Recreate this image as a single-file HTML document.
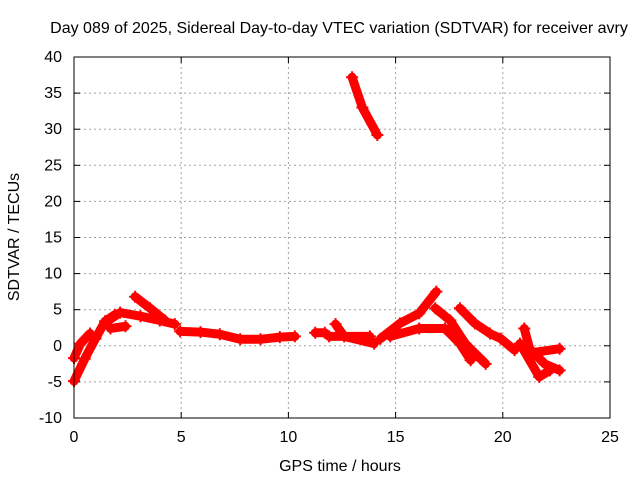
<!DOCTYPE html>
<html><head><meta charset="utf-8"><style>
body{margin:0;background:#fff;}
svg text{font-family:"Liberation Sans",sans-serif;font-size:16px;fill:#000;}
</style></head><body>
<svg id="chart" width="640" height="480" xmlns="http://www.w3.org/2000/svg">
<text x="339" y="33" text-anchor="middle">Day 089 of 2025, Sidereal Day-to-day VTEC variation (SDTVAR) for receiver avry</text>
<text x="340" y="471" text-anchor="middle">GPS time / hours</text>
<text transform="translate(19,237) rotate(-90)" text-anchor="middle">SDTVAR / TECUs</text>
<g id="grid"></g>
<g id="ticks"></g>
<g id="marks"></g>
<rect x="74" y="57" width="536" height="361" fill="none" stroke="#000" stroke-width="1"/>
</svg>
<script>
const xTicks=[0,5,10,15,20,25];
const yTicks=[-10,-5,0,5,10,15,20,25,30,35,40];
const track1=[[0,-4.9],[0.5,-1.8],[1.0,1.0],[1.45,3.4],[1.9,4.3]];
const track2=[[0,-1.7],[0.3,0.3],[0.75,1.7]];
const track3=[[1.6,3.5],[2.15,4.6],[3.1,4.1],[4.0,3.5],[4.7,3.0]];
const track4=[[2.85,6.8],[3.55,5.2],[4.25,3.5]];
const track5=[[1.7,2.4],[2.4,2.7]];
const track6=[[4.95,2.0],[5.9,1.9],[6.8,1.6],[7.75,0.9],[8.7,0.9],[9.6,1.2],[10.3,1.3]];
const track7=[[11.25,1.8],[11.7,1.8]];
const track8=[[12.2,3.0],[12.6,1.3],[14.0,0.3]];
const track9=[[11.9,1.3],[13.8,1.3]];
const track10=[[12.97,37.2],[13.45,33.0],[14.15,29.2]];
const track11=[[14.3,1.0],[15.2,3.1],[16.1,4.5],[16.9,7.5]];
const track12=[[14.75,1.3],[16.1,2.4],[17.3,2.4],[18.0,0.3],[18.5,-2.0]];
const track13=[[16.85,5.2],[17.55,3.5],[18.25,0.3],[19.2,-2.5]];
const track14=[[18.0,5.2],[18.7,3.1],[19.4,1.7],[19.9,1.0],[20.55,-0.6]];
const track15=[[21.0,2.4],[21.25,-0.4],[21.95,-2.5],[22.65,-3.4]];
const track16=[[20.8,0.3],[21.7,-4.3],[22.2,-3.4]];
const track17=[[21.25,-1.0],[22.65,-0.4]];
const tracks=[track1,track2,track3,track4,track5,track6,track7,track8,track9,track10,track11,track12,track13,track14,track15,track16,track17];
const X0=74,X1=610,Y0=418,Y1=57,XMIN=0,XMAX=25,YMIN=-10,YMAX=40;
function xs(v){return X0+(v-XMIN)/(XMAX-XMIN)*(X1-X0);}
function ys(v){return Y0-(v-YMIN)/(YMAX-YMIN)*(Y0-Y1);}
const NS="http://www.w3.org/2000/svg";
function mk(t,a,p){const e=document.createElementNS(NS,t);for(const k in a)e.setAttribute(k,a[k]);p.appendChild(e);return e;}
const grid=document.getElementById('grid'),ticks=document.getElementById('ticks'),marks=document.getElementById('marks');
xTicks.forEach(v=>{
 const x=xs(v);
 if(v>XMIN&&v<XMAX){const g=mk('line',{x1:x,x2:x,y1:Y1,y2:Y0,stroke:'#a0a0a0','stroke-dasharray':'2,3'},grid);
 
 }
 const t=mk('text',{x:x,y:Y0+24,'text-anchor':'middle'},ticks);t.textContent=v;
 
 
 mk('line',{x1:x,x2:x,y1:Y0,y2:Y0-6,stroke:'#000'},ticks);
 mk('line',{x1:x,x2:x,y1:Y1,y2:Y1+6,stroke:'#000'},ticks);
});
yTicks.forEach(v=>{
 const y=ys(v);
 if(v>YMIN&&v<YMAX){const g=mk('line',{x1:X0,x2:X1,y1:y,y2:y,stroke:'#a0a0a0','stroke-dasharray':'2,3'},grid);
 
 }
 const t=mk('text',{x:X0-12,y:y+5,'text-anchor':'end'},ticks);t.textContent=v;
 
 
 mk('line',{x1:X0,x2:X0+6,y1:y,y2:y,stroke:'#000'},ticks);
 mk('line',{x1:X1,x2:X1-6,y1:y,y2:y,stroke:'#000'},ticks);
});
tracks.forEach((tr,i)=>{
 const pts=tr.map(p=>xs(p[0])+','+ys(p[1])).join(' ');
 const pl=mk('polyline',{points:pts,fill:'none',stroke:'#ff0000','stroke-width':9,'stroke-linejoin':'round','stroke-linecap':'round'},marks);
 
 
 tr.forEach(p=>{
  const x=xs(p[0]),y=ys(p[1]);
  const m=mk('path',{d:`M${x-6},${y}H${x+6}M${x},${y-6}V${y+6}`,stroke:'#ff0000','stroke-width':2},marks);
  
  
 });
});
</script>
</body></html>
